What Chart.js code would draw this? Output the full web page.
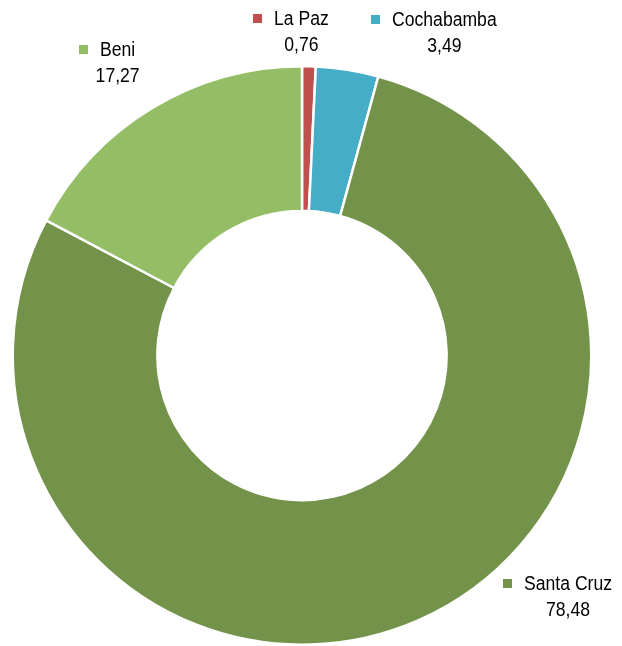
<!DOCTYPE html>
<html>
<head>
<meta charset="utf-8">
<script src="https://cdn.jsdelivr.net/npm/chart.js@4/dist/chart.umd.min.js"></script>
<style>
  html, body { margin: 0; padding: 0; background: #fff; }
  #wrap { width: 622px; height: 646px; position: relative; }
</style>
</head>
<body>
<div id="wrap"><canvas id="donutChart"></canvas></div>
<script>
const departamentos = ["La Paz", "Cochabamba", "Santa Cruz", "Beni"];
const porcentajes = [0.76, 3.49, 78.48, 17.27];
const colores = ["#C0504D", "#45ADC5", "#74934A", "#93BE66"];

// where each label block sits (marker x, text line y)
const labelPos = [
  { x: 253, y: 19 },
  { x: 371, y: 20 },
  { x: 503, y: 584 },
  { x: 79, y: 50 },
];

const fmt = (v) => v.toFixed(2).replace(".", ",");
const squeeze = 0.88; // narrow label font

const outsideLabels = {
  id: "outsideLabels",
  afterDraw(chart) {
    const ctx = chart.ctx;
    ctx.save();
    ctx.font = "20px 'Liberation Sans', Arial, sans-serif";
    ctx.textBaseline = "middle";
    departamentos.forEach((name, i) => {
      const p = labelPos[i];
      ctx.fillStyle = colores[i];
      ctx.fillRect(p.x, p.y - 5, 9, 9);
      ctx.fillStyle = "#000";
      const tx = p.x + 21;
      const w = ctx.measureText(name).width * squeeze;
      ctx.save();
      ctx.translate(tx, p.y);
      ctx.scale(squeeze, 1);
      ctx.textAlign = "left";
      ctx.fillText(name, 0, 0);
      ctx.restore();
      ctx.save();
      ctx.translate(tx + w / 2, p.y + 26);
      ctx.scale(squeeze, 1);
      ctx.textAlign = "center";
      ctx.fillText(fmt(porcentajes[i]), 0, 0);
      ctx.restore();
    });
    ctx.restore();
  },
};

const ctx = document.getElementById("donutChart").getContext("2d");
new Chart(ctx, {
  type: "doughnut",
  data: {
    labels: departamentos,
    datasets: [
      {
        data: porcentajes,
        backgroundColor: colores,
        borderColor: "#fff",
        borderWidth: 2.5,
      },
    ],
  },
  options: {
    responsive: true,
    maintainAspectRatio: false,
    animation: false,
    cutout: "50%",
    layout: { padding: { left: 11, right: 29, top: 65, bottom: 0 } },
    plugins: {
      legend: { display: false },
      tooltip: { enabled: false },
    },
  },
  plugins: [outsideLabels],
});
</script>
</body>
</html>
